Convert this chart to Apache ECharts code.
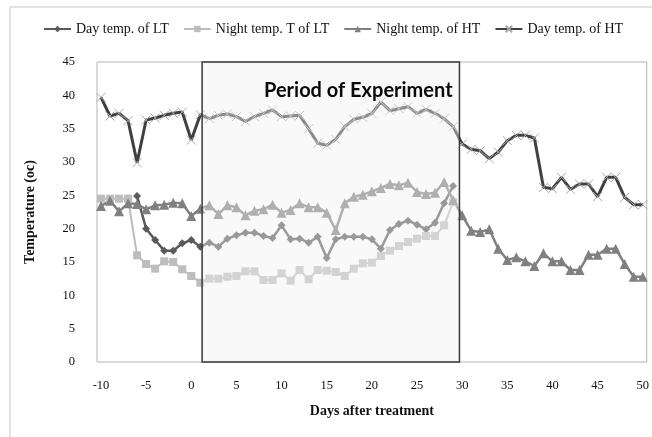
<!DOCTYPE html>
<html><head><meta charset="utf-8">
<script src="https://cdn.jsdelivr.net/npm/echarts@6/dist/echarts.min.js"></script>
<style>html,body{margin:0;padding:0;background:#fff}#c{width:652px;height:437px}</style>
</head><body><div id="c"></div>
<script>
const days = [-10,-9,-8,-7,-6,-5,-4,-3,-2,-1,0,1,2,3,4,5,6,7,8,9,10,11,12,13,14,15,16,17,18,19,20,21,22,23,24,25,26,27,28,29,30,31,32,33,34,35,36,37,38,39,40,41,42,43,44,45,46,47,48,49,50];
const xTickLabels = [-10,-5,0,5,10,15,20,25,30,35,40,45,50];
const seriesNames = ['Day temp. of LT','Night temp. T of LT','Night temp. of HT','Day temp. of HT'];
const dayLT = [null,null,null,null,24.9,20.0,18.3,16.7,16.7,17.8,18.3,17.3,17.9,17.3,18.5,19.0,19.4,19.4,18.9,18.6,20.5,18.4,18.5,17.9,18.8,15.6,18.4,18.8,18.8,18.8,18.4,17.0,19.8,20.7,21.2,20.6,19.9,20.9,23.8,26.4,null,null,null,null,null,null,null,null,null,null,null,null,null,null,null,null,null,null,null,null,null];
const nightLT = [24.5,24.5,24.5,24.5,16.0,14.7,14.0,15.1,15.0,13.9,12.9,11.9,12.5,12.5,12.8,12.9,13.6,13.6,12.3,12.3,13.3,12.2,13.8,12.4,13.8,13.7,13.5,12.9,14.0,14.8,14.9,15.9,16.7,17.4,18.0,18.5,18.9,18.9,20.5,24.0,null,null,null,null,null,null,null,null,null,null,null,null,null,null,null,null,null,null,null,null,null];
const nightHT = [23.4,24.2,22.6,23.8,23.7,22.9,23.5,23.6,23.9,23.8,21.9,23.0,23.5,22.2,23.5,23.2,22.0,22.7,22.9,23.6,22.4,22.8,23.8,23.2,23.2,22.4,19.8,23.8,24.8,25.1,25.6,26.1,26.7,26.5,26.9,25.5,25.2,25.4,27.0,24.3,22.0,19.7,19.5,19.9,17.0,15.3,15.7,15.1,14.4,16.3,15.1,15.1,13.8,13.8,16.1,16.1,17.0,17.0,14.7,12.8,12.8];
const dayHT = [39.7,36.9,37.3,36.2,29.9,36.3,36.6,37.0,37.3,37.5,33.3,37.1,36.5,37.0,37.2,36.8,36.1,36.8,37.3,37.8,36.8,36.9,37.0,35.0,32.8,32.5,33.4,35.3,36.4,36.7,37.3,39.0,37.7,38.0,38.3,37.3,37.9,37.3,36.5,35.3,32.7,31.9,31.7,30.5,31.5,33.2,34.0,34.0,33.6,26.2,26.0,27.7,25.9,26.7,26.7,24.8,27.7,27.7,24.7,23.6,23.6];
const periodStart = 1.2, periodEnd = 29.7;
const periodLabel = 'Period of Experiment';

const pair = arr => days.map((d,i) => [d, arr[i]]);
const serif = 'Liberation Serif';
const chart = echarts.init(document.getElementById('c'));
chart.setOption({
  animation: false,
  backgroundColor: '#fff',
  graphic: [{type:'rect', z: 0, shape:{x:10,y:7,width:700,height:500}, style:{fill:'none', stroke:'#c8c8c8', lineWidth:1}, silent:true}],
  title: {text: periodLabel, left: 259, top: 76, z: 20, textStyle:{fontFamily:'Lato', fontWeight:'bold', fontSize:20, color:'#0a0a0a'}},
  legend: {
    data: seriesNames, top: 17, left: 38, itemWidth: 27, itemHeight: 8, itemGap: 14,
    textStyle: {fontFamily: serif, fontSize: 14, color: '#111'}
  },
  grid: {left: 97, right: 3, top: 62, bottom: 75, show: true, borderColor: '#b5b5b5', borderWidth: 1, backgroundColor: 'transparent'},
  xAxis: {
    type: 'value', min: -10.44, max: 50.44,
    name: 'Days after treatment', nameLocation: 'middle', nameGap: 42,
    nameTextStyle: {fontFamily: serif, fontWeight: 'bold', fontSize: 14, color: '#111'},
    axisLine: {show: false}, axisTick: {show: false}, splitLine: {show: false},
    axisLabel: {customValues: xTickLabels, margin: 17, fontFamily: serif, fontSize: 12.5, color: '#111'}
  },
  yAxis: {
    type: 'value', min: 0, max: 45, interval: 5,
    name: 'Temperature (oc)', nameLocation: 'middle', nameGap: 60,
    nameTextStyle: {fontFamily: serif, fontWeight: 'bold', fontSize: 14, color: '#111'},
    axisLine: {show: false}, axisTick: {show: false}, splitLine: {show: false},
    axisLabel: {margin: 22, fontFamily: serif, fontSize: 12.5, color: '#111'}
  },
  series: [
    {name: seriesNames[0], type: 'line', data: pair(dayLT), symbol: 'diamond', symbolSize: 8,
     lineStyle: {color: '#5a5a5a', width: 2.5}, itemStyle: {color: '#5a5a5a'}},
    {name: seriesNames[1], type: 'line', data: pair(nightLT), symbol: 'rect', symbolSize: 8,
     lineStyle: {color: '#bdbdbd', width: 2}, itemStyle: {color: '#bdbdbd'}},
    {name: seriesNames[2], type: 'line', data: pair(nightHT), symbol: 'triangle', symbolSize: 10,
     lineStyle: {color: '#808080', width: 2.5}, itemStyle: {color: '#808080'}},
    {name: seriesNames[3], type: 'line', data: pair(dayHT), symbol: 'path://M0,0L10,10M10,0L0,10', symbolSize: 9,
     lineStyle: {color: '#404040', width: 3}, itemStyle: {color: 'none', borderColor: '#a8a8a8', borderWidth: 1}},
    {type: 'custom', z: 4, silent: true, data: [[periodStart, periodEnd]], encode: {x: [0, 1]},
     renderItem: (params, api) => {
       const p0 = api.coord([api.value(0), 45]);
       const p1 = api.coord([api.value(1), 0]);
       return {type: 'rect', shape: {x: p0[0], y: p0[1], width: p1[0] - p0[0], height: p1[1] - p0[1]},
               style: {fill: 'rgba(240,240,240,0.42)', stroke: '#3a3a3a', lineWidth: 1.5}};
     }}
  ]
});
</script></body></html>
